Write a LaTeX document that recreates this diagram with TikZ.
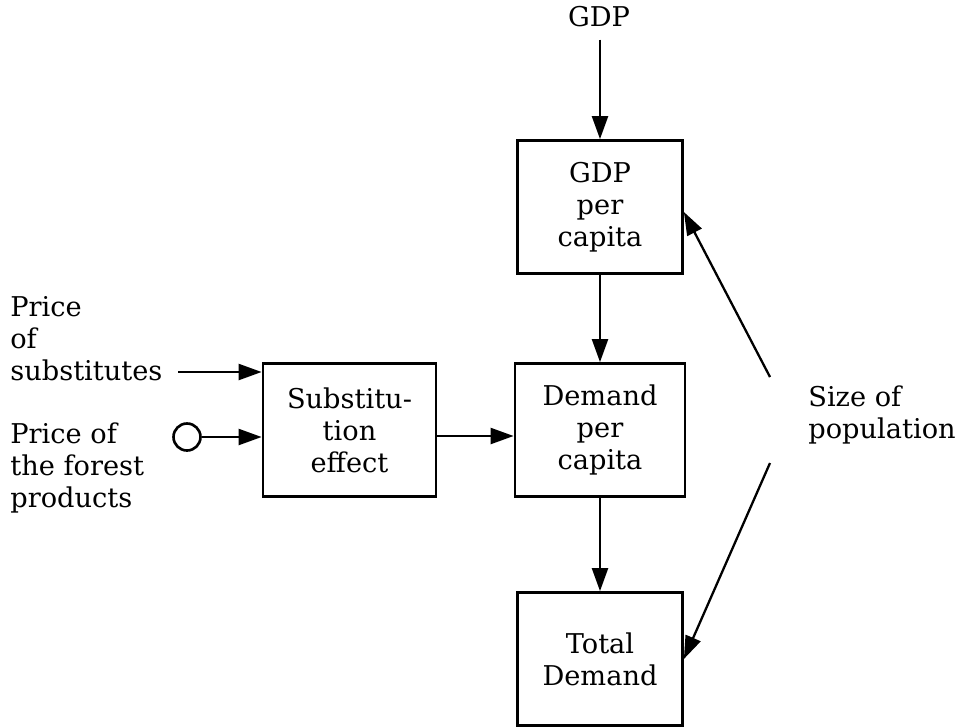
\documentclass[tikz,border=0pt]{standalone}
\usepackage{fontspec}
\setmainfont{DejaVu Serif}
\usetikzlibrary{arrows.meta}
\begin{document}
\begin{tikzpicture}[x=0.02cm,y=-0.02cm,
  box/.style={draw,line width=1.6pt,minimum width=3.3cm,minimum height=2.66cm,align=center,inner sep=0pt},
  lbl/.style={align=left,inner sep=0pt},
  arr/.style={line width=1.3pt,-{Triangle[length=0.46cm,width=0.32cm]}},
  font=\fontsize{15.5}{18.3}\selectfont]
\useasboundingbox (0,0) rectangle (960,727);
\node[inner sep=0pt] (gdp) at (599,17) {GDP};
\node[box] (gdpc) at (600,207) {GDP\\per\\capita};
\node[box,minimum width=3.4cm] (dem) at (600,430) {Demand\\per\\capita};
\node[box,minimum width=3.46cm] (subs) at (349.5,430) {Substitu-\\tion\\effect};
\node[box] (tot) at (600,659) {Total\\Demand};
\node[lbl,anchor=west] (ps) at (10,339) {Price\\of\\substitutes};
\node[lbl,anchor=west] (pf) at (10,468) {Price of\\the forest\\products};
\node[draw,circle,line width=1.5pt,minimum size=0.54cm,inner sep=0pt] (circ) at (187,437) {};
\node[lbl,anchor=west] (pop) at (808,415) {Size of\\population};
\coordinate (a1) at (178,372);
\coordinate (p1) at (770,377);
\coordinate (p2) at (770,463);
\draw[arr] ([yshift=-0.24cm]gdpc.north |- gdp.south) -- (gdpc.north);
\draw[arr] (gdpc.south) -- (dem.north);
\draw[arr] (dem.south) -- (tot.north);
\draw[arr] ([yshift=-0.12cm]subs.east) -- ([yshift=-0.12cm]dem.west);
\draw[arr] (a1) -- (a1 -| subs.west);
\draw[arr] (circ.east) -- (circ -| subs.west);
\draw[arr] (p1) -- ([yshift=-0.1cm]gdpc.east);
\draw[arr] (p2) -- (tot.east);
\end{tikzpicture}
\end{document}
